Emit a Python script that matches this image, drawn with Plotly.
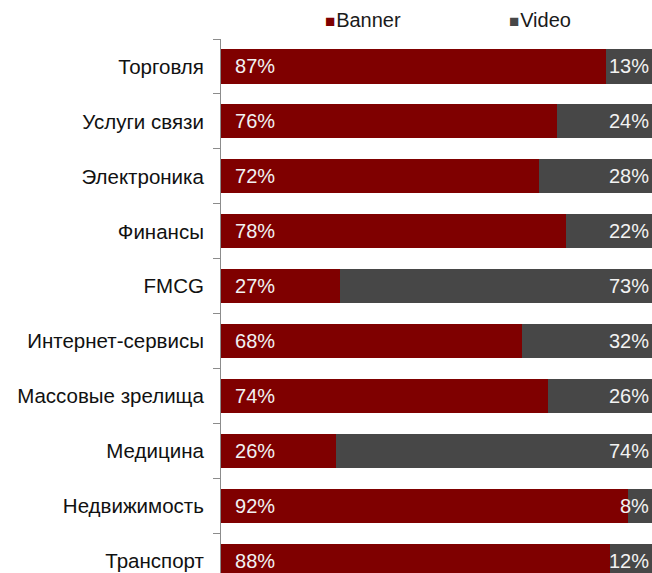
import plotly.graph_objects as go

categories = ["Торговля", "Услуги связи", "Электроника", "Финансы", "FMCG",
              "Интернет-сервисы", "Массовые зрелища", "Медицина", "Недвижимость", "Транспорт"]
banner = [87, 76, 72, 78, 27, 68, 74, 26, 92, 88]
video = [13, 24, 28, 22, 73, 32, 26, 74, 8, 12]
series_names = ["Banner", "Video"]
colors = ["#7f0000", "#474747"]

NB = "\u00a0"
LABEL_FONT = dict(color="#f2f2f2", size=20, family="Liberation Sans, Arial")

fig = go.Figure()
fig.add_trace(go.Bar(
    y=categories, x=banner, orientation="h", name=series_names[0],
    marker=dict(color=colors[0], line=dict(width=0)),
    text=[NB * 2 + f"{v}%" for v in banner], textposition="inside",
    insidetextanchor="start", textangle=0, constraintext="none",
    insidetextfont=LABEL_FONT,
    hoverinfo="skip", showlegend=False, cliponaxis=True,
))
fig.add_trace(go.Bar(
    y=categories, x=video, orientation="h", name=series_names[1],
    marker=dict(color=colors[1], line=dict(width=0)),
    hoverinfo="skip", showlegend=False,
))

# Video value labels, right-aligned at the visible right edge of the chart
for cat, v in zip(categories, video):
    fig.add_annotation(
        xref="paper", yref="y", x=1, y=cat, xanchor="right", yanchor="middle",
        xshift=-1, text=f"{v}%", showarrow=False, font=LABEL_FONT,
    )

legend_x = [(323 - 221) / 431, (507 - 221) / 431]
for name, col, lx in zip(series_names, colors, legend_x):
    fig.add_annotation(
        xref="paper", yref="paper", x=lx, y=1 + (39 - 19.5) / 534, xanchor="left", yanchor="middle",
        text=f'<span style="color:{col};font-size:17px">■</span><span style="font-size:3px"> </span>{name}',
        showarrow=False, font=dict(size=20, color="#1a1a1a", family="Liberation Sans, Arial"),
    )

fig.update_layout(
    barmode="stack", bargap=0.38,
    width=652, height=573,
    margin=dict(l=221, r=0, t=39, b=0, pad=0),
    plot_bgcolor="white", paper_bgcolor="white",
    xaxis=dict(range=[0, 100 * 431 / 442], visible=False, fixedrange=True),
    yaxis=dict(
        type="category", categoryorder="array", categoryarray=categories,
        range=[9 + 12 / 54.95, -0.5], autorange=False,
        showline=True, linecolor="#8c8c8c", linewidth=1,
        ticks="outside", tickson="boundaries", ticklen=7, tickcolor="#8c8c8c",
        tickfont=dict(size=20.5, color="#111111", family="Liberation Sans, Arial"),
        ticklabelstandoff=12, showgrid=False, zeroline=False,
    ),
    font=dict(family="Liberation Sans, Arial"),
)

fig.write_html("out.html")
